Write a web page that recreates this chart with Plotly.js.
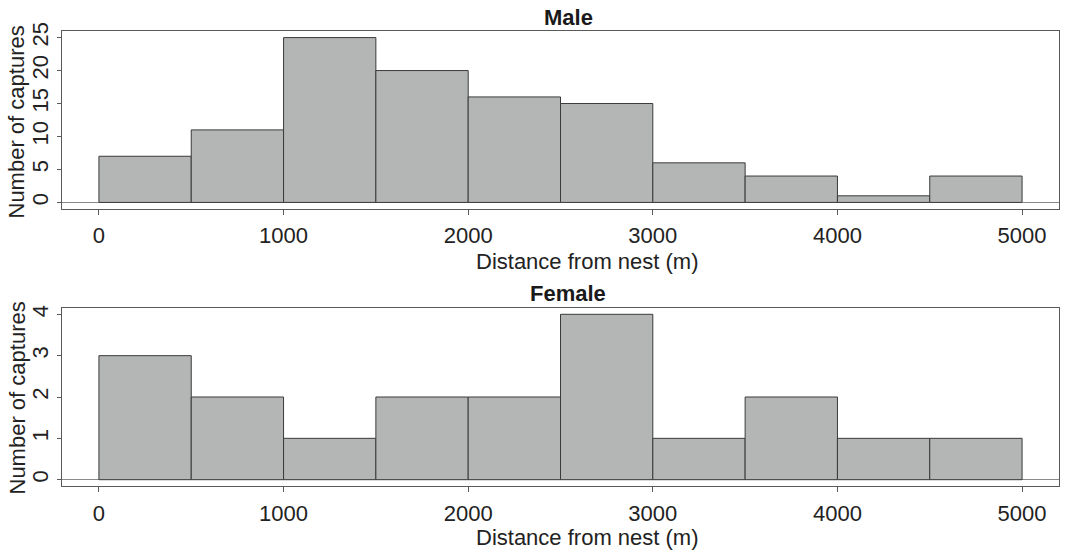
<!DOCTYPE html>
<html>
<head>
<meta charset="utf-8">
<script src="https://cdn.plot.ly/plotly-3.0.1.min.js"></script>
<style>
  html, body { margin: 0; padding: 0; background: #ffffff; }
  #chart { width: 1066px; height: 553px; }
</style>
</head>
<body>
<div id="chart"></div>
<script>
// Histogram bins (m): 500 m wide, from 0 to 5000
const binStarts = [0, 500, 1000, 1500, 2000, 2500, 3000, 3500, 4000, 4500];
const binWidth = 500;

// Number of captures per bin
const maleCounts = [7, 11, 25, 20, 16, 15, 6, 4, 1, 4];
const femaleCounts = [3, 2, 1, 2, 2, 4, 1, 2, 1, 1];

// Axis ticks
const xTicks = [0, 1000, 2000, 3000, 4000, 5000];
const maleYTicks = [0, 5, 10, 15, 20, 25];
const femaleYTicks = [0, 1, 2, 3, 4];

const panelTitles = ['Male', 'Female'];
const xTitle = 'Distance from nest (m)';
const yTitle = 'Number of captures';

const FONT = 'Liberation Sans, Arial, Helvetica, sans-serif';
const FS = 22;
const barFill = '#b4b6b5';
const barEdge = '#3a3a3a';
const frameColor = '#5a5a5a';

const centers = binStarts.map(s => s + binWidth / 2);

function histTrace(counts, xa, ya) {
  return {
    type: 'bar',
    x: centers,
    y: counts,
    width: binStarts.map(() => binWidth),
    xaxis: xa,
    yaxis: ya,
    marker: { color: barFill, line: { color: barEdge, width: 1 } },
    hoverinfo: 'x+y',
    showlegend: false
  };
}

const H = 553;
const py = px => 1 - px / H;

function xAxis(anchor) {
  return {
    domain: [62 / 1066, 1059 / 1066],
    anchor: anchor,
    range: [-200, 5200],
    tickmode: 'array',
    tickvals: xTicks,
    ticktext: xTicks.map(String),
    ticks: 'outside',
    ticklen: 5,
    tickcolor: frameColor,
    ticklabelstandoff: 2,
    showline: true,
    linecolor: frameColor,
    linewidth: 1,
    mirror: true,
    showgrid: false,
    zeroline: false,
    tickfont: { family: FONT, size: FS, color: '#222' }
  };
}

function yAxis(domain, anchor, ticks, top) {
  const pad = top * 0.04;
  return {
    domain: domain,
    anchor: anchor,
    range: [-pad, top + pad],
    tickmode: 'array',
    tickvals: ticks,
    ticktext: ticks.map(String),
    tickangle: -90,
    ticks: 'outside',
    ticklen: 4,
    tickcolor: frameColor,
    showline: true,
    linecolor: frameColor,
    linewidth: 1,
    mirror: true,
    showgrid: false,
    zeroline: true,
    zerolinecolor: '#8a8a8a',
    zerolinewidth: 1,
    tickfont: { family: FONT, size: FS, color: '#222' }
  };
}

const data = [
  histTrace(maleCounts, 'x', 'y'),
  histTrace(femaleCounts, 'x2', 'y2')
];

function label(text, xPx, yPx, angle, bold) {
  return {
    text: bold ? '<b>' + text + '</b>' : text,
    xref: 'paper', yref: 'paper', x: xPx / 1066, y: py(yPx),
    textangle: angle, showarrow: false, xanchor: 'center', yanchor: 'middle',
    font: { family: FONT, size: FS, color: bold ? '#1a1a1a' : '#222' }
  };
}

const layout = {
  width: 1066,
  height: 553,
  margin: { l: 0, r: 0, t: 0, b: 0 },
  paper_bgcolor: '#ffffff',
  plot_bgcolor: '#ffffff',
  bargap: 0,
  xaxis: xAxis('y'),
  yaxis: yAxis([py(209), py(31)], 'x', maleYTicks, 25),
  xaxis2: xAxis('y2'),
  yaxis2: yAxis([py(486.3), py(307.7)], 'x2', femaleYTicks, 4),
  annotations: [
    label(panelTitles[0], 568, 17.5, 0, true),
    label(panelTitles[1], 568, 293.5, 0, true),
    label(xTitle, 587, 261, 0, false),
    label(xTitle, 587, 537.5, 0, false),
    label(yTitle, 16.5, 122, -90, false),
    label(yTitle, 16.5, 398, -90, false)
  ]
};

Plotly.newPlot('chart', data, layout, { displayModeBar: false, staticPlot: true });
</script>
</body>
</html>
